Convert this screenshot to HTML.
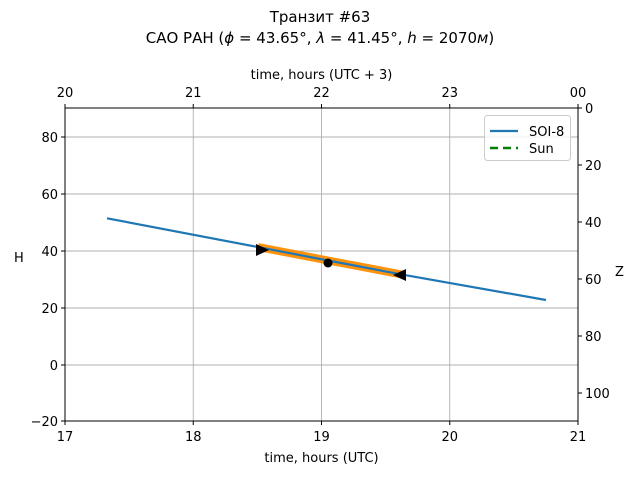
<!DOCTYPE html>
<html><head><meta charset="utf-8"><style>
body{margin:0;background:#fff}
svg text{font-family:"DejaVu Sans","Liberation Sans",sans-serif;font-size:13px;fill:#000}
</style></head><body>
<svg width="640" height="480" xmlns="http://www.w3.org/2000/svg">
<rect width="640" height="480" fill="#fff"/>
<text x="320" y="22" text-anchor="middle" font-size="15" style="font-size:15px">Транзит #63</text>
<text x="320" y="43" text-anchor="middle" style="font-size:15px">САО РАН (<tspan font-style="italic">ϕ</tspan> = 43.65°, <tspan font-style="italic">λ</tspan> = 41.45°, <tspan font-style="italic">h</tspan> = 2070<tspan font-style="italic">м</tspan>)</text>
<g stroke="#b0b0b0" stroke-width="0.9">
<line x1="193.25" y1="108" x2="193.25" y2="421"/>
<line x1="321.5" y1="108" x2="321.5" y2="421"/>
<line x1="449.75" y1="108" x2="449.75" y2="421"/>
<line x1="65" y1="137" x2="578" y2="137"/>
<line x1="65" y1="194" x2="578" y2="194"/>
<line x1="65" y1="251" x2="578" y2="251"/>
<line x1="65" y1="308" x2="578" y2="308"/>
<line x1="65" y1="365" x2="578" y2="365"/>
</g>
<polyline points="258,247 328,260.5 402,274.5" fill="none" stroke="#ff8c00" stroke-width="8" stroke-opacity="0.95"/>
<polyline points="107,218.3 262,247.8 328,260.5 400,274.2 546,300" fill="none" stroke="#1f77b4" stroke-width="2.2"/>
<polygon points="256,244 269,250 256,256" fill="#000"/>
<polygon points="406,269 393,275 406,281" fill="#000"/>
<circle cx="328" cy="263" r="4.5" fill="#000"/>
<rect x="65" y="108" width="513" height="313" fill="none" stroke="#000" stroke-width="1"/>
<g stroke="#000" stroke-width="1">
<line x1="65" y1="421" x2="65" y2="425"/><line x1="193.25" y1="421" x2="193.25" y2="425"/><line x1="321.5" y1="421" x2="321.5" y2="425"/><line x1="449.75" y1="421" x2="449.75" y2="425"/><line x1="578" y1="421" x2="578" y2="425"/>
<line x1="65" y1="108" x2="65" y2="104"/><line x1="193.25" y1="108" x2="193.25" y2="104"/><line x1="321.5" y1="108" x2="321.5" y2="104"/><line x1="449.75" y1="108" x2="449.75" y2="104"/><line x1="578" y1="108" x2="578" y2="104"/>
<line x1="61" y1="137" x2="65" y2="137"/><line x1="61" y1="194" x2="65" y2="194"/><line x1="61" y1="251" x2="65" y2="251"/><line x1="61" y1="308" x2="65" y2="308"/><line x1="61" y1="365" x2="65" y2="365"/><line x1="61" y1="421" x2="65" y2="421"/>
<line x1="578" y1="108" x2="582" y2="108"/><line x1="578" y1="165" x2="582" y2="165"/><line x1="578" y1="222" x2="582" y2="222"/><line x1="578" y1="279" x2="582" y2="279"/><line x1="578" y1="336" x2="582" y2="336"/><line x1="578" y1="393" x2="582" y2="393"/>
</g>
<g text-anchor="middle">
<text x="65" y="441">17</text><text x="193.25" y="441">18</text><text x="321.5" y="441">19</text><text x="449.75" y="441">20</text><text x="578" y="441">21</text>
<text x="321.5" y="462">time, hours (UTC)</text>
<text x="65" y="97">20</text><text x="193.25" y="97">21</text><text x="321.5" y="97">22</text><text x="449.75" y="97">23</text><text x="578" y="97">00</text>
<text x="321.5" y="79">time, hours (UTC + 3)</text>
</g>
<g text-anchor="end">
<text x="58" y="142">80</text><text x="58" y="199">60</text><text x="58" y="256">40</text><text x="58" y="313">20</text><text x="58" y="370">0</text><text x="58" y="426">−20</text>
</g>
<g text-anchor="start">
<text x="585" y="113">0</text><text x="585" y="170">20</text><text x="585" y="227">40</text><text x="585" y="284">60</text><text x="585" y="341">80</text><text x="585" y="398">100</text>
</g>
<text x="14" y="262">H</text>
<text x="615" y="276">Z</text>
<rect x="484.5" y="115.5" width="86" height="45" rx="3" fill="#fff" fill-opacity="0.8" stroke="#ccc"/>
<line x1="490" y1="131" x2="518" y2="131" stroke="#1f77b4" stroke-width="2.2"/>
<line x1="490" y1="148" x2="518" y2="148" stroke="#008000" stroke-width="2.5" stroke-dasharray="8,5"/>
<text x="529" y="136">SOI-8</text>
<text x="529" y="153">Sun</text>
</svg>
</body></html>
